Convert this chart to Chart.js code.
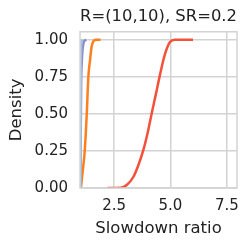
<!DOCTYPE html>
<html>
<head>
<meta charset="utf-8">
<script src="https://cdn.jsdelivr.net/npm/chart.js@4.4.0/dist/chart.umd.min.js"></script>
<style>
  html, body { margin: 0; padding: 0; background: #ffffff; }
  #wrap { width: 250px; height: 248px; }
</style>
</head>
<body>
<div id="wrap"><canvas id="c" width="250" height="248"></canvas></div>
<script>
const titleText = 'R=(10,10), SR=0.2';
const xLabel = 'Slowdown ratio';
const yLabel = 'Density';
const xTicks = [2.5, 5.0, 7.5];
const yTicks = [0, 0.25, 0.5, 0.75, 1.0];

// cumulative curves
const blueX = [1.0, 1.01, 1.02, 1.03, 1.05, 1.08];
const blueY = [0, 0.2, 0.6, 0.9, 0.99, 1.0];
const tealX = [1.0, 1.01, 1.02, 1.04, 1.07];
const tealY = [0, 0.3, 0.8, 0.97, 1.0];
const purpleX = [1.0, 1.02, 1.04, 1.07, 1.1, 1.15, 1.2, 1.27];
const purpleY = [0, 0.3, 0.7, 0.85, 0.93, 0.98, 0.995, 1.0];
const orangeX = [1.03, 1.1, 1.2, 1.29, 1.36, 1.44, 1.5, 1.58, 1.7, 1.9];
const orangeY = [0, 0.1, 0.25, 0.5, 0.75, 0.87, 0.95, 0.99, 1.0, 1.0];
const redX = [2.2, 2.8, 3.06, 3.36, 3.58, 3.8, 4.0, 4.17, 4.35, 4.53, 4.75, 4.98, 5.2, 5.5, 6.0];
const redY = [0, 0.002, 0.02, 0.076, 0.155, 0.257, 0.38, 0.505, 0.63, 0.76, 0.9, 0.985, 1.0, 1.0, 1.0];

const pts = (xs, ys) => xs.map((x, i) => ({ x: x, y: ys[i] }));

const font = 'DejaVu Sans';
const gridColor = '#d3d3d3';

const frame = {
  id: 'frame',
  afterDatasetsDraw(chart) {
    const a = chart.chartArea, ctx = chart.ctx;
    ctx.save();
    ctx.strokeStyle = gridColor;
    ctx.lineWidth = 1.5;
    ctx.strokeRect(a.left, a.top, a.right - a.left, a.bottom - a.top);
    ctx.restore();
  }
};

function line(data, color) {
  return { data: data, borderColor: color, borderWidth: 2.5, pointRadius: 0, cubicInterpolationMode: 'monotone', fill: false };
}

new Chart(document.getElementById('c'), {
  type: 'line',
  data: {
    datasets: [
      line(pts(blueX, blueY), '#a6bddb'),
      line(pts(tealX, tealY), '#7fc8c8'),
      line(pts(purpleX, purpleY), '#8c86d0'),
      line(pts(orangeX, orangeY), '#ff7f1e'),
      line(pts(redX, redY), '#f4503a')
    ]
  },
  options: {
    responsive: false,
    animation: false,
    layout: { padding: { left: 0, right: 13, top: 0, bottom: 0 } },
    plugins: {
      legend: { display: false },
      tooltip: { enabled: false },
      title: {
        display: true, text: titleText, fullSize: false, color: '#222',
        font: { family: font, size: 16.5, weight: 'normal' },
        padding: { top: 7, bottom: 5 }
      }
    },
    scales: {
      x: {
        type: 'linear', min: 0.99, max: 7.95,
        afterBuildTicks: s => { s.ticks = xTicks.map(v => ({ value: v })); },
        afterFit: s => { s.height = 60; },
        grid: { color: gridColor, lineWidth: 1.5, drawTicks: false },
        border: { display: false },
        ticks: { color: '#222', padding: 9, font: { family: font, size: 15 }, callback: v => v.toFixed(1) },
        title: { display: true, text: xLabel, color: '#222', font: { family: font, size: 16.5 }, padding: { top: 0, bottom: 9 } }
      },
      y: {
        type: 'linear', min: 0, max: 1.054,
        afterBuildTicks: s => { s.ticks = yTicks.map(v => ({ value: v })); },
        afterFit: s => { s.width = 80; },
        grid: { color: gridColor, lineWidth: 1.5, drawTicks: false },
        border: { display: false },
        ticks: { color: '#222', padding: 12, font: { family: font, size: 15 }, callback: v => v.toFixed(2) },
        title: { display: true, text: yLabel, color: '#222', font: { family: font, size: 16.5 }, padding: { top: 7, bottom: 0 } }
      }
    }
  },
  plugins: [frame]
});
</script>
</body>
</html>
